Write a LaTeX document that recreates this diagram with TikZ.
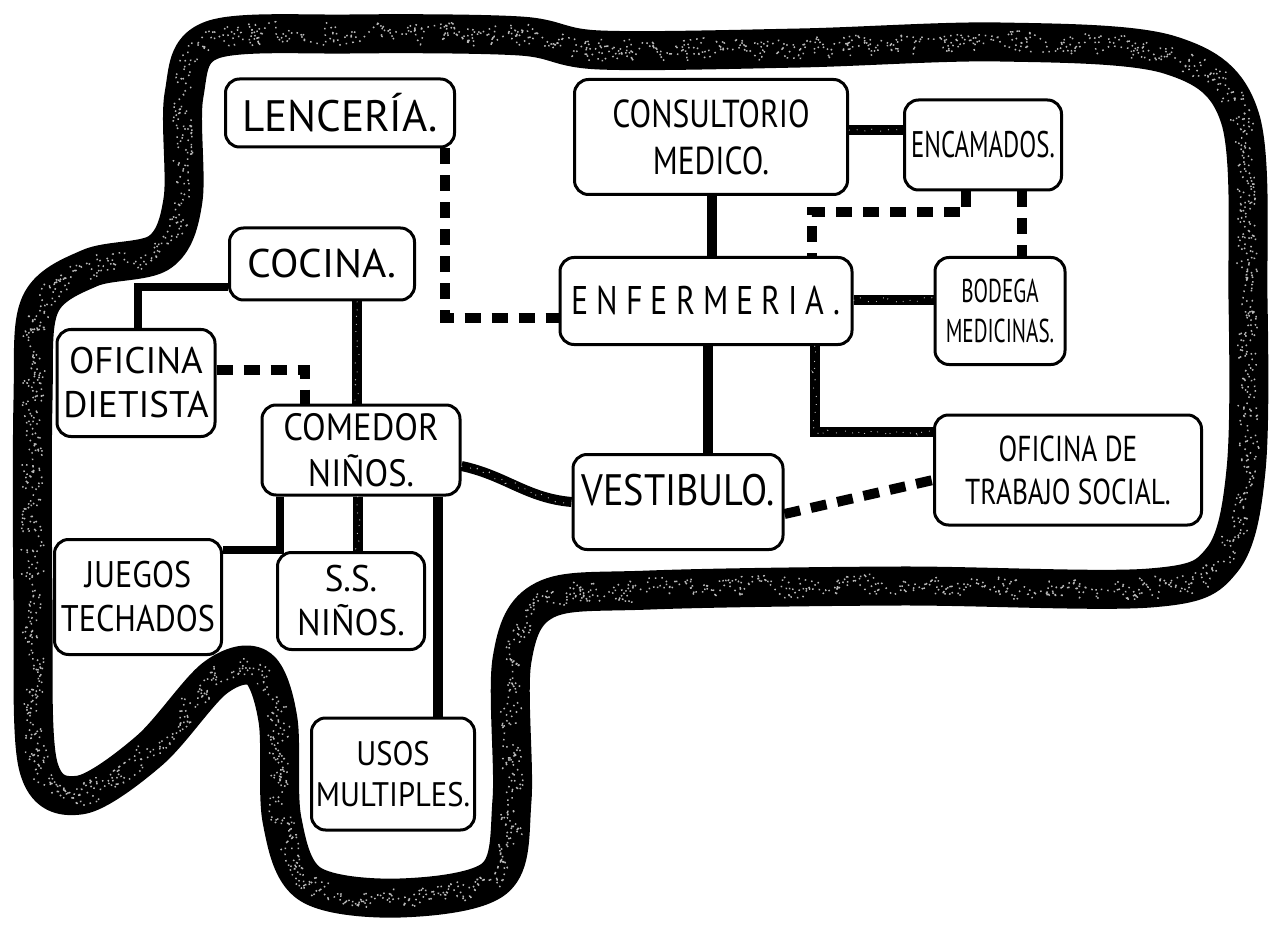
\documentclass[tikz,border=0pt]{standalone}
\usepackage{fontspec}
\usepackage{graphicx}
\newfontfamily\handfont{PT Sans}
\usetikzlibrary{decorations.pathmorphing,calc}
\begin{document}
\begin{tikzpicture}[x=1pt,y=-1pt,
  room/.style={draw=black, line width=3pt, rounded corners=14pt, fill=white, align=center, inner sep=4pt},
  fs/.style 2 args={font=\handfont\fontsize{#1}{\the\numexpr#1*6/5\relax}\selectfont\addfontfeature{FakeStretch=#2}},
  conn/.style={draw=black, line width=10pt},
  spk/.style={conn, postaction={draw=gray!50, line width=1pt, decorate, decoration={random steps, segment length=2.5pt, amplitude=2.5pt}, dash pattern=on 0.8pt off 9pt}},
  dconn/.style={draw=black, line width=10pt, dash pattern=on 16pt off 11pt},
  band/.style={draw=black, line width=39pt, line join=round,
    postaction={draw=gray!55, line width=1.5pt, decorate, decoration={random steps, segment length=3pt, amplitude=12pt}, dash pattern=on 1.5pt off 5pt}}
]
\useasboundingbox (0,0) rectangle (1277,925);
\fill[white] (0,0) rectangle (1277,925);
\pgfmathsetseed{7}
% outer boundary
\draw[band] plot[smooth cycle, tension=0.55] coordinates {
  (183,200) (184,95) (212,40) (350,34) (520,36) (600,50) (800,48) (1000,42)
  (1170,55) (1240,118) (1248,300) (1246,470) (1222,560) (1150,588) (900,586)
  (650,590) (545,600) (512,660) (512,800) (495,878) (400,898) (310,884)
  (282,820) (278,720) (258,668) (215,678) (150,750) (80,795) (38,765)
  (33,600) (33,400) (40,305) (90,268) (160,252)};

% rooms
\node[room, fs={44}{0.98}, minimum width=229pt, minimum height=68pt] (len) at (340,113) {LENCERÍA.};
\node[room, fs={40}{1.04}, minimum width=185pt, minimum height=72pt] (coc) at (322,264) {COCINA.};
\node[room, fs={37}{1.0}, minimum width=158pt, minimum height=107pt] (die) at (136,383) {OFICINA\\DIETISTA};
\node[room, fs={38}{0.91}, minimum width=198pt, minimum height=90pt] (com) at (361,450) {COMEDOR\\NIÑOS.};
\node[room, fs={37}{0.87}, minimum width=167pt, minimum height=115pt] (jue) at (138,597) {JUEGOS\\TECHADOS};
\node[room, fs={37}{0.95}, minimum width=147pt, minimum height=97pt] (ssn) at (351,601) {S.S.\\NIÑOS.};
\node[room, fs={34}{0.9}, minimum width=163pt, minimum height=112pt] (uso) at (393,774) {USOS\\MULTIPLES.};
\node[room, fs={39}{0.81}, minimum width=273pt, minimum height=115pt] (con) at (711,137) {CONSULTORIO\\MEDICO.};
\node[room, fs={37}{0.67}, minimum width=157pt, minimum height=90pt] (enc) at (983,145) {ENCAMADOS.};
\node[room, fs={40}{0.8}, minimum width=292pt, minimum height=87pt] (enf) at (706,301) {\addfontfeature{LetterSpace=20}ENFERMERIA.};
\node[room, fs={33}{0.64}, minimum width=130pt, minimum height=107pt] (bod) at (1000,311) {BODEGA\\MEDICINAS.};
\node[room, fs={44}{0.87}, minimum width=210pt, minimum height=95pt, text height=28pt, text depth=22pt] (ves) at (678,502) {VESTIBULO.};
\node[room, fs={36}{0.76}, minimum width=267pt, minimum height=110pt] (tra) at (1068,470) {OFICINA DE\\TRABAJO SOCIAL.};

% bend points
\coordinate (p1) at (445,318);
\coordinate (p2) at (138,287);
\coordinate (p3) at (357,0);
\coordinate (p4) at (305,370);
\coordinate (p5) at (280,550);
\coordinate (p6) at (358,0);
\coordinate (p7) at (438,0);
\coordinate (p8) at (708,0);
\coordinate (p9) at (815,432);
\coordinate (p10) at (712,0);
\coordinate (p11) at (0,130);
\coordinate (p12) at (966,212);
\coordinate (p13) at (812,212);
\coordinate (p14) at (1022,0);
\coordinate (p15) at (0,300);

% connectors
\draw[dconn] (len.south -| p1) -- (p1) -- (enf.west |- p1);
\draw[conn, line width=8pt] (coc.west |- p2) -- (p2) -- (die.north -| p2);
\draw[spk] (coc.south -| p3) -- (com.north -| p3);
\draw[dconn] (die.east |- p4) -- (p4) -- (com.north -| p4);
\draw[conn, line width=8pt] (com.south -| p5) -- (p5) -- (jue.east |- p5);
\draw[spk] (com.south -| p6) -- (ssn.north -| p6);
\draw[conn] (com.south -| p7) -- (uso.north -| p7);
\draw[spk] ([yshift=-16pt]com.east) to[out=-12,in=175] (ves.west);
\draw[conn] (enf.south -| p8) -- (ves.north -| p8);
\draw[spk] (enf.south -| p9) -- (p9) -- (tra.west |- p9);
\draw[dconn] ([yshift=-12pt]ves.east) -- ([yshift=-10pt]tra.west);
\draw[conn] (con.south -| p10) -- (enf.north -| p10);
\draw[spk] (con.east |- p11) -- (enc.west |- p11);
\draw[dconn] (enc.south -| p12) -- (p12) -- (p13) -- (enf.north -| p13);
\draw[dconn] (enc.south -| p14) -- (bod.north -| p14);
\draw[spk] (enf.east |- p15) -- (bod.west |- p15);
\end{tikzpicture}
\end{document}
